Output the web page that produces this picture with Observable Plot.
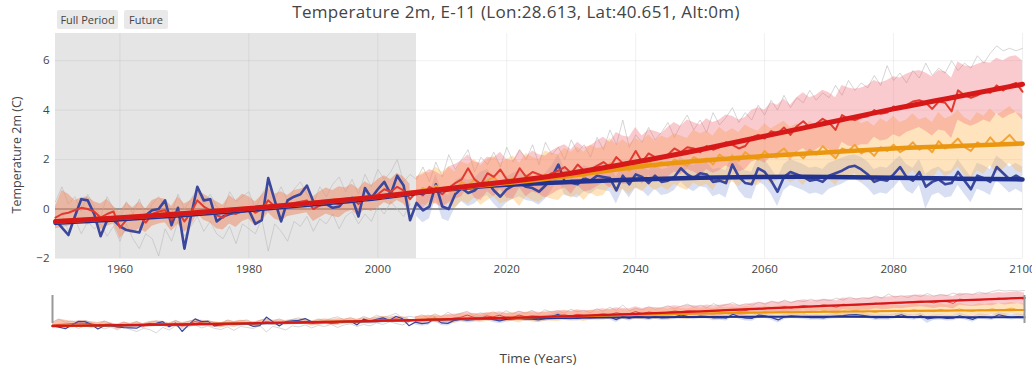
<!DOCTYPE html>
<html><head><meta charset="utf-8">
<script src="https://cdn.jsdelivr.net/npm/d3@7"></script>
<script src="https://cdn.jsdelivr.net/npm/@observablehq/plot@0.6"></script>
<style>
body{margin:0;background:#fff;font-family:"Open Sans",sans-serif;color:#444}
#wrap{position:relative;width:1032px;height:368px;overflow:hidden}
#main,#slider{position:absolute;left:0}
#main{top:0}
#slider{top:285px}
.title{position:absolute;top:1px;left:0;width:1032px;text-align:center;font-size:17px;letter-spacing:0.35px;line-height:22px;color:#444}
.btn{position:absolute;top:10px;height:19px;line-height:19px;font-size:11px;background:#e9e9e9;text-align:center;color:#444;border-radius:2px}
.xt{position:absolute;top:349px;left:0;width:1076px;text-align:center;font-size:13.5px;color:#444}
.yt{position:absolute;left:16px;top:155px;width:0;height:0;overflow:visible}
.yt span{position:absolute;left:0;top:0;transform:translate(-50%,-50%) rotate(-90deg);white-space:nowrap;font-size:12.5px;color:#444}
</style></head>
<body>
<div id="wrap">
  <div id="main"></div>
  <div id="slider"></div>
  <div class="title">Temperature 2m, E-11 (Lon:28.613, Lat:40.651, Alt:0m)</div>
  <div class="btn" style="left:57px;width:61px">Full Period</div>
  <div class="btn" style="left:124px;width:44px">Future</div>
  <div class="yt"><span>Temperature 2m (C)</span></div>
  <div class="xt">Time (Years)</div>
</div>
<script>
// ---- data ----
const histStart = 1950, futStart = 2006;
const historicalPeriod = [{start: 1950, end: 2006}];
const xTicks = [1960, 1980, 2000, 2020, 2040, 2060, 2080, 2100];
const yTicks = [-2, 0, 2, 4, 6];

// blue line (observations / RCP2.6 mean), 1950-2100
const blueLine = [-0.45,-0.75,-1.05,-0.3,0.4,0.35,-0.2,-1.1,-0.45,-0.45,
-0.7,-0.85,-0.9,-0.95,-0.25,-0.05,0.0,0.35,-0.65,0.05,
-1.6,-0.3,0.9,0.35,0.4,-0.5,-0.3,-0.2,-0.15,-0.1,
-0.05,-0.6,-0.45,1.25,0.35,-0.5,0.35,0.5,0.6,0.95,
0.3,0.15,0.2,0.05,0.1,0.4,0.45,-0.3,0.85,0.45,
0.8,1.1,0.6,1.35,0.95,-0.45,
0.25,-0.05,0.1,1.0,0.1,0.0,0.6,0.85,0.65,0.75,
1.0,1.1,0.75,0.5,0.8,0.95,1.05,0.9,0.85,0.7,
0.95,1.3,1.8,1.1,1.05,1.0,1.25,1.15,1.35,1.3,
1.25,0.75,1.35,1.0,1.4,1.3,1.05,1.35,1.1,1.15,
1.3,1.65,1.4,1.25,1.45,1.4,1.1,1.15,1.05,1.8,
1.3,1.05,1.0,1.65,1.5,1.15,0.7,1.3,1.5,1.4,
1.3,1.15,1.2,1.1,1.35,1.45,1.55,1.7,1.75,1.6,
1.4,1.1,1.2,1.15,1.4,1.7,1.3,1.15,1.5,0.9,
1.1,1.2,1.0,1.05,1.5,1.15,0.8,1.35,1.25,1.1,
1.7,1.45,1.2,1.35,1.2];

// historical ensemble mean, 1950-2005
const histMean = [-0.35,-0.2,-0.15,-0.05,0.05,0.0,-0.1,-0.35,-0.2,-0.1,
-0.75,-0.45,-0.4,-0.3,-0.55,-0.2,-0.1,-0.05,-0.45,-0.1,
-0.5,-0.15,0.35,0.1,-0.05,-0.25,-0.35,-0.1,-0.2,-0.05,
0.05,-0.15,0.0,0.35,0.1,0.05,0.15,0.25,0.3,0.35,
0.0,0.15,0.3,0.25,0.2,0.35,0.45,0.2,0.5,0.4,
0.6,0.8,0.7,0.9,0.75,0.4];
const histHi = [0.1,0.75,0.6,0.35,0.45,0.5,0.3,0.2,0.4,0.1,
-0.1,0.25,0.05,0.3,0.0,0.35,0.45,0.4,0.1,0.5,
0.2,0.35,0.7,0.6,0.45,0.3,0.15,0.55,0.35,0.6,
0.5,0.3,0.55,0.85,0.6,0.7,0.55,0.75,0.8,0.9,
0.5,0.7,0.85,0.75,0.9,0.85,1.0,0.8,1.1,0.95,
1.2,1.35,1.2,1.45,1.3,1.0];
const histLo = [-0.8,-0.75,-0.7,-0.6,-0.5,-0.65,-0.55,-0.85,-0.7,-0.6,
-1.2,-0.9,-1.0,-0.8,-0.95,-0.7,-0.6,-0.55,-0.9,-0.6,
-0.95,-0.7,-0.2,-0.45,-0.55,-0.8,-0.85,-0.6,-0.75,-0.5,
-0.4,-0.7,-0.5,-0.15,-0.4,-0.5,-0.3,-0.25,-0.2,-0.15,
-0.5,-0.35,-0.2,-0.3,-0.35,-0.15,-0.05,-0.3,0.0,-0.1,
0.05,0.25,0.15,0.35,0.2,-0.15];

// RCP8.5, 2006-2100
const rcp85Mean = [0.7,0.55,0.9,0.75,0.6,0.85,1.05,1.2,1.65,1.2,
1.0,1.45,1.3,1.6,1.2,1.15,1.65,1.3,1.5,1.4,
1.3,1.45,1.55,1.7,1.45,1.8,1.55,1.6,1.75,1.9,
1.7,2.1,1.85,1.9,2.35,1.9,2.25,2.1,2.05,2.2,
2.45,2.3,2.5,2.45,2.3,2.55,2.4,2.5,2.7,2.6,
2.45,2.55,2.9,3.0,2.85,3.15,3.05,3.3,3.0,3.35,
3.55,3.3,3.45,3.65,3.5,3.2,3.8,3.65,3.6,3.7,
3.75,4.0,3.85,3.9,4.15,4.05,4.2,4.35,4.4,4.3,
4.05,4.35,4.3,3.95,4.8,4.6,4.5,4.6,4.75,4.7,
5.0,4.8,5.0,5.1,4.75];
const rcp85Hi = [1.3,1.4,1.6,1.5,1.35,1.7,1.8,1.95,2.2,1.9,
1.85,2.1,2.05,2.3,2.0,1.95,2.4,2.1,2.35,2.2,
2.15,2.35,2.5,2.6,2.4,2.7,2.5,2.55,2.75,2.9,
2.7,3.1,2.95,2.9,3.3,2.95,3.2,3.15,3.05,3.3,
3.5,3.35,3.6,3.5,3.4,3.65,3.5,3.6,3.8,3.75,
3.6,3.7,4.0,4.1,4.0,4.3,4.2,4.45,4.2,4.5,
4.7,4.5,4.6,4.8,4.7,4.5,5.0,4.9,4.85,4.9,
5.0,5.2,5.1,5.2,5.35,5.3,5.45,5.55,5.6,5.5,
5.35,5.6,5.55,5.3,5.95,5.8,5.75,5.85,5.95,5.9,
6.1,6.0,6.15,6.2,6.0];
const rcp85Lo = [0.1,0.0,0.3,0.2,0.05,0.25,0.4,0.5,0.9,0.45,
0.35,0.7,0.5,0.8,0.45,0.4,0.85,0.5,0.7,0.6,
0.45,0.6,0.75,0.85,0.6,0.95,0.7,0.75,0.9,1.05,
0.85,1.2,1.0,1.0,1.45,1.0,1.35,1.2,1.15,1.3,
1.5,1.4,1.6,1.5,1.35,1.6,1.45,1.55,1.75,1.6,
1.5,1.6,1.9,2.0,1.85,2.1,2.0,2.25,1.95,2.3,
2.45,2.2,2.4,2.55,2.4,2.1,2.7,2.55,2.5,2.6,
2.6,2.9,2.75,2.8,3.0,2.9,3.1,3.2,3.3,3.15,
2.95,3.2,3.15,2.85,3.6,3.45,3.35,3.45,3.6,3.5,
3.85,3.65,3.8,3.9,3.6];

// RCP4.5, 2006-2100
const rcp45Mean = [0.6,0.85,0.7,0.95,0.75,0.9,0.7,1.1,0.95,1.2,
0.9,1.15,1.3,1.0,1.1,1.25,0.95,1.35,1.2,1.1,
1.4,1.3,1.25,1.5,1.35,1.55,1.3,1.6,1.45,1.5,
1.85,1.6,1.75,1.55,1.8,1.65,1.95,1.7,1.9,1.75,
2.0,1.85,1.75,2.1,1.95,2.05,1.8,2.2,2.0,2.15,
1.95,2.3,2.1,2.0,2.35,2.1,2.25,2.45,2.15,2.3,
2.05,2.4,2.2,2.55,2.3,2.05,2.45,2.35,2.6,2.25,
2.4,2.15,2.5,2.35,2.6,2.3,2.45,2.7,2.4,2.55,
2.3,2.75,2.45,2.6,2.85,2.5,2.35,2.7,2.55,2.9,
2.6,2.75,3.0,2.7,2.6];
const rcp45Hi = [1.3,1.5,1.45,1.7,1.5,1.7,1.5,1.9,1.8,2.0,
1.75,2.0,2.15,1.85,2.0,2.15,1.85,2.25,2.1,2.0,
2.35,2.25,2.2,2.45,2.3,2.5,2.3,2.6,2.45,2.5,
2.85,2.6,2.8,2.6,2.85,2.7,3.0,2.75,2.95,2.85,
3.05,2.95,2.85,3.2,3.05,3.15,2.95,3.3,3.1,3.25,
3.1,3.4,3.25,3.15,3.45,3.25,3.4,3.55,3.3,3.45,
3.2,3.55,3.35,3.7,3.45,3.25,3.6,3.5,3.75,3.45,
3.55,3.35,3.65,3.5,3.75,3.5,3.6,3.85,3.6,3.7,
3.5,3.9,3.65,3.75,4.0,3.7,3.55,3.9,3.75,4.05,
3.8,3.95,4.15,3.9,3.8];
const rcp45Lo = [0.0,0.2,0.05,0.25,0.1,0.2,0.0,0.35,0.2,0.45,
0.15,0.35,0.5,0.2,0.3,0.4,0.1,0.5,0.35,0.25,
0.5,0.4,0.35,0.6,0.45,0.6,0.35,0.65,0.5,0.55,
0.9,0.65,0.8,0.6,0.85,0.7,0.95,0.75,0.9,0.75,
1.0,0.85,0.75,1.05,0.9,1.0,0.75,1.15,0.95,1.1,
0.9,1.2,1.0,0.95,1.25,1.0,1.15,1.35,1.05,1.2,
0.95,1.3,1.1,1.4,1.2,0.95,1.3,1.2,1.45,1.1,
1.25,1.0,1.35,1.2,1.45,1.15,1.3,1.55,1.25,1.4,
1.15,1.6,1.3,1.45,1.7,1.35,1.2,1.55,1.4,1.75,
1.45,1.6,1.85,1.55,1.45];

// RCP2.6 spread, 2006-2100
const rcp26Hi = [0.7,0.5,0.6,1.4,0.65,0.55,1.1,1.3,1.15,1.25,
1.5,1.6,1.3,1.05,1.3,1.45,1.55,1.4,1.35,1.25,
1.45,1.75,2.2,1.6,1.55,1.5,1.75,1.65,1.8,1.8,
1.75,1.3,1.85,1.5,1.9,1.8,1.55,1.85,1.6,1.65,
1.8,2.1,1.9,1.75,1.95,1.9,1.6,1.65,1.55,2.25,
1.8,1.55,1.5,2.1,2.0,1.65,1.25,1.8,2.0,1.9,
1.8,1.65,1.7,1.6,1.85,1.95,2.05,2.15,2.2,2.1,
1.9,1.6,1.7,1.65,1.9,2.15,1.8,1.65,2.0,1.4,
1.6,1.7,1.5,1.55,2.0,1.65,1.3,1.85,1.75,1.6,
2.15,1.95,1.7,1.85,1.7];
const rcp26Lo = [-0.3,-0.55,-0.4,0.45,-0.4,-0.5,0.05,0.3,0.1,0.2,
0.45,0.55,0.2,-0.05,0.25,0.4,0.5,0.35,0.3,0.15,
0.4,0.75,1.25,0.55,0.5,0.45,0.7,0.6,0.8,0.75,
0.7,0.2,0.8,0.45,0.85,0.75,0.5,0.8,0.55,0.6,
0.75,1.1,0.85,0.7,0.9,0.85,0.5,0.6,0.45,1.25,
0.75,0.45,0.4,1.1,0.95,0.6,0.1,0.75,0.95,0.85,
0.75,0.6,0.65,0.55,0.8,0.9,1.0,1.15,1.2,1.05,
0.85,0.55,0.65,0.6,0.85,1.15,0.75,0.6,0.95,0.0,
0.55,0.65,0.45,0.5,0.95,0.6,0.25,0.8,0.7,0.55,
1.15,0.9,0.65,0.8,0.65];

// individual model runs (thin lines)
const modelHi = [0.3,0.9,0.2,0.5,-0.1,0.6,0.1,-0.3,0.5,0.0,
-0.4,0.3,-0.2,0.4,-0.3,0.2,0.5,0.1,-0.2,0.6,
0.0,0.4,0.8,0.2,0.6,0.1,-0.1,0.7,0.3,0.5,
0.7,0.0,0.6,1.0,0.4,0.9,0.3,0.8,1.1,0.6,
0.2,0.9,0.5,1.0,1.3,0.7,1.2,0.6,1.4,0.9,
1.6,1.2,1.5,2.0,1.1,1.4,
1.2,1.7,1.1,1.9,1.3,2.2,1.6,2.0,2.4,1.5,
2.1,1.8,2.3,1.7,2.5,1.9,2.4,2.0,2.6,1.8,
2.7,2.2,2.5,2.0,2.8,2.3,2.6,2.1,2.9,2.4,
3.2,2.6,3.6,2.5,3.0,2.7,3.3,2.8,3.1,3.5,
2.9,3.4,3.8,3.2,3.6,3.1,3.9,3.4,3.7,4.1,
3.5,3.9,3.6,4.2,3.8,4.4,4.0,4.6,4.1,4.5,
4.3,4.8,4.4,4.7,4.5,5.0,4.6,5.2,4.8,5.1,
4.9,5.4,5.0,5.8,5.2,5.5,5.1,5.6,5.3,5.9,
5.4,5.7,5.5,6.0,5.6,5.9,5.7,6.2,5.9,6.3,
6.6,6.4,6.5,6.4,6.5];
const modelLo = [-0.6,-0.2,-0.9,-0.4,-1.0,-0.5,-0.8,-0.6,-1.1,-0.7,
-1.3,-0.6,-1.2,-1.6,-1.0,-1.2,-1.9,-0.8,-1.3,-0.5,
-1.1,-0.7,-0.3,-0.9,-0.5,-1.0,-1.2,-0.7,-1.4,-0.6,
-0.8,-1.0,-0.4,-1.7,-0.6,-0.9,-1.3,-0.5,-0.7,-0.3,
-0.9,-0.4,-0.6,-0.2,-0.8,-0.3,-0.1,-0.6,-0.2,-0.5,
0.1,-0.2,0.3,0.0,-0.3,0.2];

// trend lines
const trendYears = [1950,1960,1970,1980,1990,2000,2010,2020,2030,2040,2050,2060,2070,2080,2090,2100];
const trend85 = [-0.5,-0.35,-0.18,0.02,0.25,0.5,0.8,1.1,1.45,1.9,2.4,2.95,3.5,4.05,4.55,5.05];
const trend45 = [-0.5,-0.35,-0.18,0.02,0.25,0.5,0.8,1.05,1.35,1.7,1.95,2.15,2.3,2.45,2.55,2.65];
const trend26 = [-0.56,-0.41,-0.24,-0.04,0.19,0.45,0.77,0.98,1.1,1.2,1.27,1.3,1.3,1.27,1.23,1.2];

// ---- tables ----
const series = (start, vals) => vals.map((v, i) => ({year: start + i, v}));
const band = (start, lo, hi) => lo.map((l, i) => ({year: start + i, lo: l, hi: hi[i]}));
const trend = vals => vals.map((v, i) => ({year: trendYears[i], v}));

const blueRows = series(histStart, blueLine);
const redRows = series(histStart, histMean.concat(rcp85Mean));
const orangeRows = series(futStart, rcp45Mean);
const histBand = band(histStart, histLo, histHi);
const band26 = band(futStart, rcp26Lo, rcp26Hi);
const band45 = band(futStart, rcp45Lo, rcp45Hi);
const band85 = band(futStart, rcp85Lo, rcp85Hi);
const modelHiRows = series(histStart, modelHi);
const modelLoRows = series(histStart, modelLo);

const C = {
  blue: "#3a479c", blueTrend: "#22328f",
  red: "#e23a30", redTrend: "#d71818",
  orange: "#f2a43a", orangeTrend: "#ea960f",
  histFill: "rgb(236,135,95)", fill26: "rgb(110,130,210)",
  fill45: "rgb(252,185,90)", fill85: "rgb(240,105,115)"
};

function dataMarks(k) {
  return [
    Plot.line(modelHiRows, {x: "year", y: "v", stroke: "#bbb", strokeWidth: 1, strokeOpacity: 0.6}),
    Plot.line(modelLoRows, {x: "year", y: "v", stroke: "#bbb", strokeWidth: 1, strokeOpacity: 0.6}),
    Plot.areaY(histBand, {x: "year", y1: "lo", y2: "hi", fill: C.histFill, fillOpacity: 0.5}),
    Plot.areaY(band26, {x: "year", y1: "lo", y2: "hi", fill: C.fill26, fillOpacity: 0.26}),
    Plot.areaY(band45, {x: "year", y1: "lo", y2: "hi", fill: C.fill45, fillOpacity: 0.4}),
    Plot.areaY(band85, {x: "year", y1: "lo", y2: "hi", fill: C.fill85, fillOpacity: 0.35}),
    Plot.line(blueRows, {x: "year", y: "v", stroke: C.blue, strokeWidth: 2.6 * k}),
    Plot.line(orangeRows, {x: "year", y: "v", stroke: C.orange, strokeWidth: 2 * k}),
    Plot.line(redRows, {x: "year", y: "v", stroke: C.red, strokeWidth: 2 * k}),
    Plot.line(trend(trend26), {x: "year", y: "v", stroke: C.blueTrend, strokeWidth: 4.5 * k, curve: "natural"}),
    Plot.line(trend(trend45), {x: "year", y: "v", stroke: C.orangeTrend, strokeWidth: 4.5 * k, curve: "natural"}),
    Plot.line(trend(trend85), {x: "year", y: "v", stroke: C.redTrend, strokeWidth: 5 * k, curve: "natural"})
  ];
}

const main = Plot.plot({
  width: 1032, height: 290,
  marginLeft: 55, marginRight: 10, marginTop: 33, marginBottom: 32,
  style: {fontFamily: "Open Sans", fontSize: "11.5px", color: "#444", background: "transparent", overflow: "hidden"},
  x: {domain: [1950, 2100]},
  y: {domain: [-2, 7.1]},
  marks: [
    Plot.rect(historicalPeriod, {x1: "start", x2: "end", fill: "#e5e5e5"}),
    Plot.gridX(xTicks, {stroke: "#000", strokeOpacity: 0.06}),
    Plot.gridY(yTicks, {stroke: "#000", strokeOpacity: 0.06}),
    Plot.ruleY([0], {stroke: "#999", strokeWidth: 2}),
    ...dataMarks(1),
    Plot.axisX(xTicks, {tickSize: 0, tickPadding: 6, tickFormat: d => String(d), label: null}),
    Plot.axisY(yTicks, {tickSize: 0, tickPadding: 6, label: null})
  ]
});
document.getElementById("main").appendChild(main);

const slider = Plot.plot({
  width: 1032, height: 50,
  marginLeft: 52, marginRight: 8, marginTop: 2, marginBottom: 2,
  style: {background: "transparent"},
  x: {domain: [1950, 2100], axis: null},
  y: {domain: [-2, 7.1], axis: null},
  marks: [
    ...dataMarks(0.45),
    Plot.ruleX([blueRows[0].year, blueRows[blueRows.length - 1].year], {stroke: "#999", strokeWidth: 2, insetTop: 8, insetBottom: 10})
  ]
});
document.getElementById("slider").appendChild(slider);
</script>
</body></html>
